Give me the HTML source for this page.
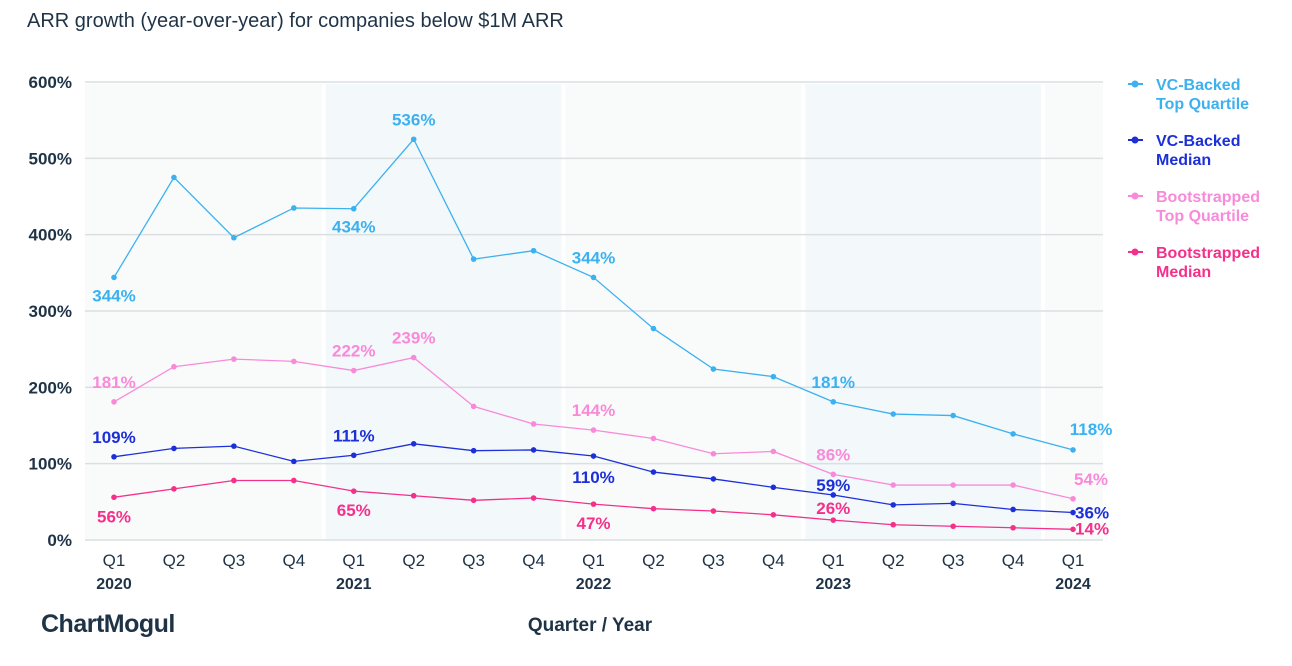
<!DOCTYPE html>
<html><head><meta charset="utf-8"><style>
body{margin:0;background:#fff;font-family:"Liberation Sans",sans-serif;}
svg text{font-family:"Liberation Sans",sans-serif;}
</style></head><body>
<svg id="c" width="1292" height="661" xmlns="http://www.w3.org/2000/svg">
<text x="27" y="27" font-size="20" fill="#1f3347">ARR growth (year-over-year) for companies below $1M ARR</text>
<g id="bands"></g><g id="grid"></g><g id="series"></g><g id="axes"></g><g id="legend"></g>
<text x="41" y="632" font-size="25" fill="#1f3347" font-weight="bold" letter-spacing="-0.5">ChartMogul</text>
<text x="590" y="631" font-size="19" font-weight="bold" fill="#1f3347" text-anchor="middle">Quarter / Year</text>
</svg>
<script>
const quarters=["Q1","Q2","Q3","Q4","Q1","Q2","Q3","Q4","Q1","Q2","Q3","Q4","Q1","Q2","Q3","Q4","Q1"];
const years=["2020","2021","2022","2023","2024"];
const yTicks=[0,100,200,300,400,500,600];
const vcTop=[344,475,396,435,434,525,368,379,344,277,224,214,181,165,163,139,118];
const vcMed=[109,120,123,103,111,126,117,118,110,89,80,69,59,46,48,40,36];
const bsTop=[181,227,237,234,222,239,175,152,144,133,113,116,86,72,72,72,54];
const bsMed=[56,67,78,78,64,58,52,55,47,41,38,33,26,20,18,16,14];
const vcTopLabels={0:"344%",4:"434%",5:"536%",8:"344%",12:"181%",16:"118%"};
const vcMedLabels={0:"109%",4:"111%",8:"110%",12:"59%",16:"36%"};
const bsTopLabels={0:"181%",4:"222%",5:"239%",8:"144%",12:"86%",16:"54%"};
const bsMedLabels={0:"56%",4:"65%",8:"47%",12:"26%",16:"14%"};
const NS="http://www.w3.org/2000/svg";
const X=i=>114+i*59.94, Y=v=>540-v*0.7633;
function mk(t,a,p){const e=document.createElementNS(NS,t);for(const k in a)e.setAttribute(k,a[k]);p.appendChild(e);return e;}
const bands=document.getElementById('bands');
for(let b=0;b<4;b++){const x0=b==0?85:X(b*4)-28,x1=b==3?1041:X(b*4+4)-32;
 const r=mk('rect',{x:x0,y:84,width:x1-x0,height:456,fill:b%2?'#f3f8fb':'#f9fbfb'},bands);
 
 }
{const r=mk('rect',{x:1045,y:84,width:58,height:456,fill:'#f9fbfb'},bands);
 
 }
const grid=document.getElementById('grid'),axes=document.getElementById('axes');
yTicks.forEach(v=>{const l=mk('line',{x1:85,x2:1103,y1:Y(v),y2:Y(v),stroke:'#dcdfe2','stroke-width':1.5},grid);
 
 const t=mk('text',{x:72,y:Y(v)+6,'text-anchor':'end','font-size':17,fill:'#1f3347','font-weight':'bold'},axes);t.textContent=v+'%';
 });
quarters.forEach((q,i)=>{const t=mk('text',{x:X(i),y:566,'text-anchor':'middle','font-size':17,fill:'#1f3347'},axes);t.textContent=q;
 });
years.forEach((y,i)=>{const t=mk('text',{x:X(i*4),y:589,'text-anchor':'middle','font-size':16,'font-weight':'bold',fill:'#1f3347'},axes);t.textContent=y;
 });
const S=document.getElementById('series');
const defs=[[vcTop,'#3bb1f0',vcTopLabels,'vc-top-quartile',-14],[bsTop,'#f98ad9',bsTopLabels,'bootstrapped-top-quartile',-14],[vcMed,'#1d2fd9',vcMedLabels,'vc-median',-14],[bsMed,'#f5308a',bsMedLabels,'bootstrapped-median',25]];
defs.forEach(([d,c,labs,n,off])=>{const g=mk('g',{},S);
 const p=mk('polyline',{points:d.map((v,i)=>X(i)+','+Y(v)).join(' '),fill:'none',stroke:c,'stroke-width':1.3},g);
 
 d.forEach((v,i)=>{const m=mk('circle',{cx:X(i),cy:Y(v),r:2.8,fill:c},g);});
 for(const k in labs){const i=+k;let o=off;
  if(n=='vc-top-quartile'&&(i==0||i==4))o=24;
  if(n=='vc-median'&&i==8)o=27;
  if(n=='vc-median'&&i==12)o=-4;
  if(n=='bootstrapped-median'&&i==12)o=-6;
  let x=X(i),a='middle';
  if(i==16){
   if(n=='vc-median'){x=X(i)+2;a='start';o=6;}
   else if(n=='bootstrapped-median'){x=X(i)+2;a='start';o=5;}
   else {x=X(i)+18;o=n=='vc-top-quartile'?-15:-14;}
  }
  const t=mk('text',{x:x,y:Y(d[i])+o,'text-anchor':a,'font-size':17,'font-weight':'bold',fill:c},g);t.textContent=labs[k];
  }});
const L=document.getElementById('legend');
[['VC-Backed','Top Quartile','#3bb1f0'],['VC-Backed','Median','#1d2fd9'],['Bootstrapped','Top Quartile','#f98ad9'],['Bootstrapped','Median','#f5308a']].forEach((e,i)=>{
 const y=84+i*56;const g=mk('g',{},L);
 mk('line',{x1:1128,x2:1143,y1:y,y2:y,stroke:e[2],'stroke-width':2},g);mk('circle',{cx:1135,cy:y,r:3.5,fill:e[2]},g);
 const t1=mk('text',{x:1156,y:y+6,'font-size':16,'font-weight':'bold',fill:e[2]},g);t1.textContent=e[0];
 const t2=mk('text',{x:1156,y:y+25,'font-size':16,'font-weight':'bold',fill:e[2]},g);t2.textContent=e[1];});
</script>
</body></html>
